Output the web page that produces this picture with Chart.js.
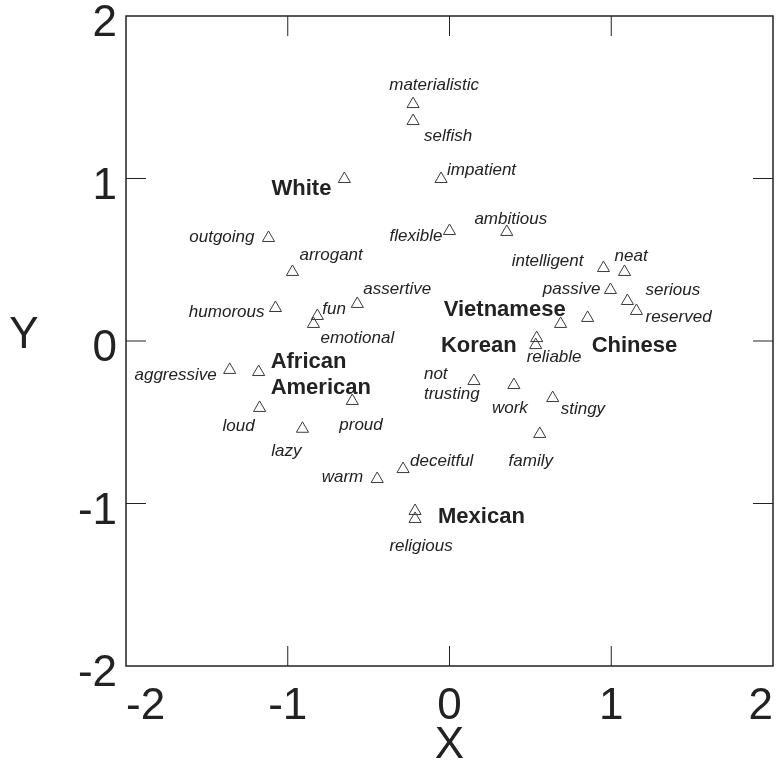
<!DOCTYPE html>
<html>
<head>
<meta charset="utf-8">
<title>Stereotype map</title>
<script src="https://cdn.jsdelivr.net/npm/chart.js@4.4.1/dist/chart.umd.min.js"></script>
<style>
  html, body { margin: 0; padding: 0; background: #fff; }
  canvas { display: block; }
</style>
</head>
<body>
<canvas id="mapChart" width="781" height="772"></canvas>
<script>
const pointNames = [
  'materialistic', 'selfish', 'impatient', 'flexible', 'ambitious', 'White',
  'outgoing', 'arrogant', 'humorous', 'fun', 'emotional', 'assertive',
  'aggressive', 'African\nAmerican', 'loud', 'proud', 'lazy',
  'intelligent', 'neat', 'passive', 'serious', 'reserved', 'Chinese',
  'Vietnamese', 'Korean', 'reliable', 'not\ntrusting', 'work', 'stingy',
  'family', 'deceitful', 'warm', 'Mexican', 'religious'
];
const xValues = [
  -0.225, -0.225, -0.052, 0.0, 0.354, -0.65,
  -1.119, -0.971, -1.076, -0.817, -0.841, -0.57,
  -1.359, -1.18, -1.174, -0.601, -0.909,
  0.952, 1.082, 0.995, 1.1, 1.156, 0.854,
  0.687, 0.539, 0.533, 0.151, 0.398, 0.638,
  0.558, -0.287, -0.447, -0.213, -0.213
];
const yValues = [
  1.458, 1.354, 0.997, 0.677, 0.671, 0.997,
  0.634, 0.425, 0.203, 0.154, 0.105, 0.228,
  -0.178, -0.191, -0.412, -0.369, -0.54,
  0.449, 0.425, 0.314, 0.246, 0.185, 0.142,
  0.105, 0.018, -0.025, -0.246, -0.271, -0.351,
  -0.572, -0.788, -0.849, -1.046, -1.095
];
const groupNames = ['White', 'African\nAmerican', 'Chinese', 'Vietnamese', 'Korean', 'Mexican'];
const innerTicks = [-1, 0, 1];

// where each word sits next to its marker: [dx, dy, textAlign]
const labelPlacement = [
  [21, -19, 'center'], [11, 15, 'left'], [6, -9, 'left'], [-7, 5, 'right'],
  [4, -13, 'center'], [-13, 10, 'right'], [-14, -1, 'right'], [7, -17, 'left'],
  [-11, 4, 'right'], [5, -7, 'left'], [7, 14, 'left'], [6, -15, 'left'],
  [-13, 5, 'right'], [12, -10, 'left'], [-5, 18, 'right'], [-13, 24, 'left'],
  [-1, 23, 'right'], [-20, -7, 'right'], [-10, -16, 'left'], [-10, -1, 'right'],
  [18, -11, 'left'], [9, 6, 'left'], [4, 28, 'left'], [5, -14, 'right'],
  [-20, 8, 'right'], [-9, 12, 'left'], [-50, -7, 'left'], [-4, 23, 'center'],
  [8, 11, 'left'], [-9, 27, 'center'], [7, -8, 'left'], [-14, -2, 'right'],
  [23, 6, 'left'], [6, 27, 'center']
];

const FONT = '"Liberation Sans", Arial, Helvetica, sans-serif';
const AXIS_FONT = '"Liberation Sans Narrow", "Arial Narrow", "Liberation Sans", sans-serif';
const INK = '#222';

// Frame, inward tick marks and the upright "Y" title
const framePlugin = {
  id: 'frame',
  beforeDatasetsDraw(chart) {
    const { ctx, chartArea: a, scales: { x, y } } = chart;
    ctx.save();
    ctx.strokeStyle = INK;
    ctx.lineWidth = 1.5;
    ctx.strokeRect(a.left, a.top, a.right - a.left, a.bottom - a.top);
    ctx.lineWidth = 1;
    ctx.beginPath();
    innerTicks.forEach(v => {
      const px = x.getPixelForValue(v);
      const py = y.getPixelForValue(v);
      ctx.moveTo(px, a.bottom); ctx.lineTo(px, a.bottom - 20);
      ctx.moveTo(px, a.top); ctx.lineTo(px, a.top + 20);
      ctx.moveTo(a.left, py); ctx.lineTo(a.left + 20, py);
      ctx.moveTo(a.right, py); ctx.lineTo(a.right - 20, py);
    });
    ctx.stroke();

    ctx.fillStyle = INK;
    ctx.font = '44px ' + AXIS_FONT;
    ctx.textAlign = 'center';
    ctx.textBaseline = 'middle';
    ctx.fillText('Y', a.left - 102, (a.top + a.bottom) / 2 - 5);
    ctx.restore();
  }
};

// Word labels beside each triangle
const pointLabelPlugin = {
  id: 'pointLabels',
  afterDatasetsDraw(chart) {
    const ctx = chart.ctx;
    const meta = chart.getDatasetMeta(0);
    ctx.save();
    ctx.fillStyle = INK;
    ctx.textBaseline = 'middle';
    meta.data.forEach((pt, i) => {
      const name = pointNames[i];
      const isGroup = groupNames.includes(name);
      const [dx, dy, align] = labelPlacement[i];
      ctx.font = isGroup ? 'bold 22px ' + FONT : 'italic 17px ' + FONT;
      ctx.textAlign = align;
      const lh = isGroup ? 26 : 20;
      name.split('\n').forEach((line, k) => {
        ctx.fillText(line, pt.x + dx, pt.y + dy + k * lh);
      });
    });
    ctx.restore();
  }
};

function noPadding(scale) {
  scale.paddingLeft = 0;
  scale.paddingRight = 0;
  scale.paddingTop = 0;
  scale.paddingBottom = 0;
}

new Chart(document.getElementById('mapChart'), {
  type: 'scatter',
  data: {
    datasets: [{
      data: xValues.map((x, i) => ({ x, y: yValues[i] })),
      pointStyle: 'triangle',
      pointRadius: 7,
      pointHoverRadius: 7,
      pointBorderWidth: 1,
      pointBorderColor: '#3a3a3a',
      pointBackgroundColor: 'rgba(0,0,0,0)',
      showLine: false
    }]
  },
  options: {
    responsive: false,
    animation: false,
    layout: { padding: { top: 16, right: 6, left: 0, bottom: 0 } },
    plugins: { legend: { display: false }, tooltip: { enabled: false } },
    scales: {
      x: {
        type: 'linear', min: -2, max: 2,
        afterFit(scale) { scale.height = 106; noPadding(scale); },
        grid: { display: false, drawTicks: false },
        border: { display: false },
        ticks: {
          stepSize: 1, padding: 14, align: 'inner', color: INK,
          font: { size: 44, family: AXIS_FONT }
        },
        title: {
          display: true, text: 'X', color: INK, padding: 0,
          font: { size: 44, family: AXIS_FONT }
        }
      },
      y: {
        type: 'linear', min: -2, max: 2,
        afterFit(scale) { scale.width = 126; noPadding(scale); },
        grid: { display: false, drawTicks: false },
        border: { display: false },
        ticks: {
          stepSize: 1, padding: 9, labelOffset: 8, color: INK,
          font: { size: 44, family: AXIS_FONT }
        }
      }
    }
  },
  plugins: [framePlugin, pointLabelPlugin]
});
</script>
</body>
</html>
